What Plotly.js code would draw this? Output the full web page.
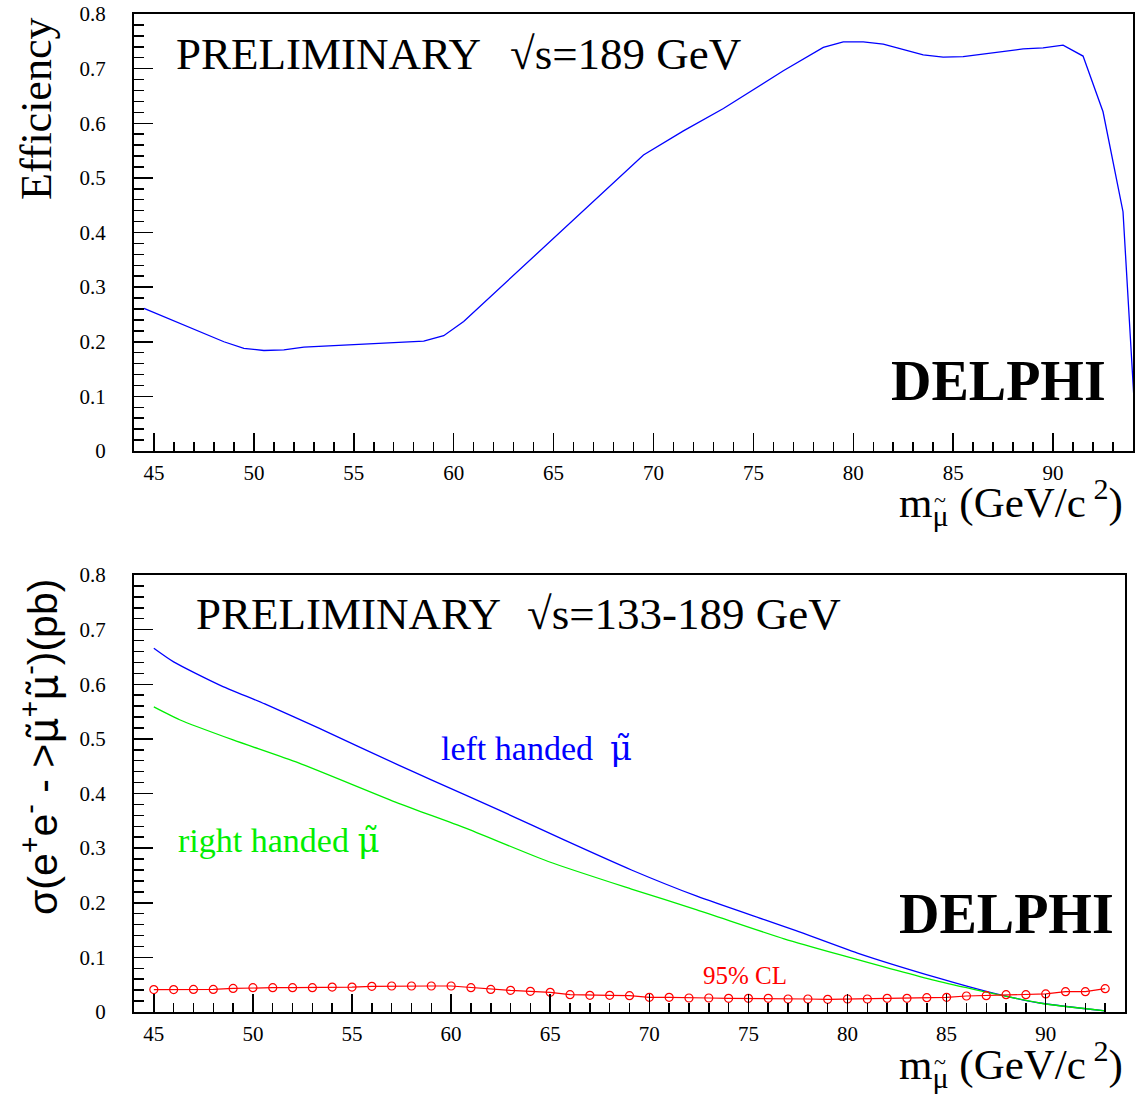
<!DOCTYPE html>
<html>
<head>
<meta charset="utf-8">
<script src="https://cdn.plot.ly/plotly-3.0.1.min.js"></script>
<style>body{margin:0;background:#fff;}#chart{width:1141px;height:1102px;}</style>
</head>
<body>
<div id="chart"></div>
<script>
// Top panel: selection efficiency vs smuon mass
const effMass = [44.5, 48.5, 49.5, 50.5, 51.5, 52.5, 58.5, 59.5, 60.5, 62.5, 64.5, 66.5, 69.5, 71.5, 73.5, 76.5, 78.5, 79.5, 80.5, 81.5, 83.5, 84.5, 85.5, 88.5, 89.5, 90.5, 91.5, 92.5, 93.5, 94.2];
const effValue = [0.261, 0.200, 0.188, 0.184, 0.185, 0.190, 0.201, 0.211, 0.237, 0.305, 0.372, 0.440, 0.542, 0.586, 0.627, 0.696, 0.739, 0.749, 0.749, 0.745, 0.725, 0.721, 0.722, 0.736, 0.738, 0.743, 0.723, 0.621, 0.438, 0.0];

// Bottom panel: cross sections
const leftMass = [45, 46, 48.3, 50.6, 53.3, 57.35, 59, 62.4, 65.7, 69.1, 72.4, 75.8, 77.4, 80.5, 84.6, 87.1, 89.7, 93];
const leftXsec = [0.666, 0.641, 0.599, 0.564, 0.520, 0.452, 0.425, 0.370, 0.315, 0.260, 0.212, 0.169, 0.149, 0.108, 0.062, 0.037, 0.0165, 0.002];

const rightMass = [45, 46.3, 49, 52.3, 57.35, 60.7, 64.9, 69.1, 72.4, 76.8, 79.6, 84.6, 89.7, 93];
const rightXsec = [0.5585, 0.535, 0.498, 0.456, 0.382, 0.337, 0.2755, 0.225, 0.187, 0.134, 0.105, 0.056, 0.0165, 0.002];

const limitMass = [45,46,47,48,49,50,51,52,53,54,55,56,57,58,59,60,61,62,63,64,65,66,67,68,69,70,71,72,73,74,75,76,77,78,79,80,81,82,83,84,85,86,87,88,89,90,91,92,93];
const limitXsec = [0.041,0.041,0.0414,0.0414,0.0432,0.0445,0.0445,0.0445,0.0445,0.0457,0.0457,0.047,0.0476,0.0476,0.0476,0.0476,0.0445,0.0414,0.0396,0.0378,0.036,0.0317,0.0305,0.0305,0.0299,0.0268,0.0268,0.0256,0.0256,0.025,0.025,0.025,0.0238,0.0238,0.0232,0.0238,0.0238,0.025,0.025,0.0262,0.0268,0.0293,0.0299,0.0317,0.0317,0.033,0.0372,0.0372,0.0427];

const FONT = 'Liberation Serif, Times New Roman, serif';
const SANS = 'Liberation Sans, Arial, sans-serif';
const W = 1141, H = 1102;
const ML = 134, MR = 8, MT = 14, MB = 90;
const PW = W - ML - MR, PH = H - MT - MB;
const px = v => (v - ML) / PW;
const py = v => (H - MB - v) / PH;

const traces = [
  {x: effMass, y: effValue, xaxis: 'x', yaxis: 'y', mode: 'lines', line: {color: '#0000ff', width: 1.3}},
  {x: leftMass, y: leftXsec, xaxis: 'x2', yaxis: 'y2', mode: 'lines', line: {color: '#0000ff', width: 1.3, shape: 'spline', smoothing: 0.6}},
  {x: rightMass, y: rightXsec, xaxis: 'x2', yaxis: 'y2', mode: 'lines', line: {color: '#00ee00', width: 1.3, shape: 'spline', smoothing: 0.6}},
  {x: limitMass, y: limitXsec, xaxis: 'x2', yaxis: 'y2', mode: 'lines+markers', line: {color: '#ff0000', width: 1.2},
   marker: {symbol: 'circle-open', size: 8, color: '#ff0000', line: {width: 1.2}}, cliponaxis: false}
];

function xax(domain, anchor) {
  return {domain: domain, anchor: anchor, range: [44, 94], showgrid: false, zeroline: false,
    showline: true, mirror: true, linecolor: '#000', linewidth: 2,
    ticks: 'inside', tick0: 45, dtick: 5, ticklen: 18, tickwidth: 1.5, tickcolor: '#000',
    minor: {ticks: 'inside', dtick: 1, ticklen: 9, tickwidth: 1.5, tickcolor: '#000'},
    tickfont: {family: FONT, size: 21, color: '#000'}, ticklabelstandoff: 2};
}
function yax(domain, anchor) {
  return {domain: domain, anchor: anchor, range: [0, 0.8], showgrid: false, zeroline: false,
    showline: true, mirror: true, linecolor: '#000', linewidth: 2,
    ticks: 'inside', tick0: 0, dtick: 0.1, ticklen: 19, tickwidth: 1.5, tickcolor: '#000',
    minor: {ticks: 'inside', dtick: 0.02, ticklen: 10, tickwidth: 1.5, tickcolor: '#000'},
    tickfont: {family: FONT, size: 21, color: '#000'}, ticklabelstandoff: 22};
}

const topDom = [py(451), 1];
const botDom = [0, py(575)];

function ann(text, x, y, size, opts) {
  return Object.assign({text: text, xref: 'paper', yref: 'paper', x: px(x), y: py(y), showarrow: false,
    xanchor: 'left', yanchor: 'middle', font: {family: FONT, size: size, color: '#000'}}, opts || {});
}

const xTitle = 'm<sub>μ</sub> (GeV/c<sup> 2</sup>)';
const muSans = '<span style="font-family:DejaVu Sans">μ̃</span>';
const muSerif = '<span style="font-family:DejaVu Serif">μ̃</span>';

const annotations = [
  ann('PRELIMINARY', 174, 54, 45),
  ann('√s=189 GeV', 508, 54, 45),
  ann('<b>DELPHI</b>', 1108, 381, 56, {xanchor: 'right'}),
  ann(xTitle, 897, 502, 43),
  ann('~', 940, 499, 22, {xanchor: 'center'}),
  ann('Efficiency', 36, 16, 44, {xanchor: 'center', yanchor: 'top', textangle: -90}),

  ann('PRELIMINARY', 194, 614, 45),
  ann('√s=133-189 GeV', 525, 614, 45),
  ann('<b>DELPHI</b>', 1116, 914, 56, {xanchor: 'right'}),
  ann(xTitle, 897, 1064, 43),
  ann('~', 940, 1061, 22, {xanchor: 'center'}),
  ann('σ(e<sup>+</sup>e<sup>-</sup> - >' + muSans + '<sup>+</sup>' + muSans + '<sup>-</sup>)(pb)', 40, 577, 41,
      {xanchor: 'center', yanchor: 'top', textangle: -90, font: {family: SANS, size: 41, color: '#000'}}),
  ann('left handed  ' + muSerif, 439, 748, 34, {font: {family: FONT, size: 34, color: '#0000ff'}}),
  ann('right handed ' + muSerif, 176, 840, 34, {font: {family: FONT, size: 34, color: '#00ee00'}}),
  ann('95% CL', 701, 975, 25, {font: {family: FONT, size: 25, color: '#ff0000'}})
];

const layout = {
  width: W, height: H, showlegend: false,
  margin: {l: ML, r: MR, t: MT, b: MB},
  paper_bgcolor: '#fff', plot_bgcolor: '#fff',
  xaxis: xax([0, 1], 'y'),
  yaxis: yax(topDom, 'x'),
  xaxis2: xax([0, px(1125)], 'y2'),
  yaxis2: yax(botDom, 'x2'),
  annotations: annotations
};

Plotly.newPlot('chart', traces, layout, {staticPlot: true});
</script>
</body>
</html>
